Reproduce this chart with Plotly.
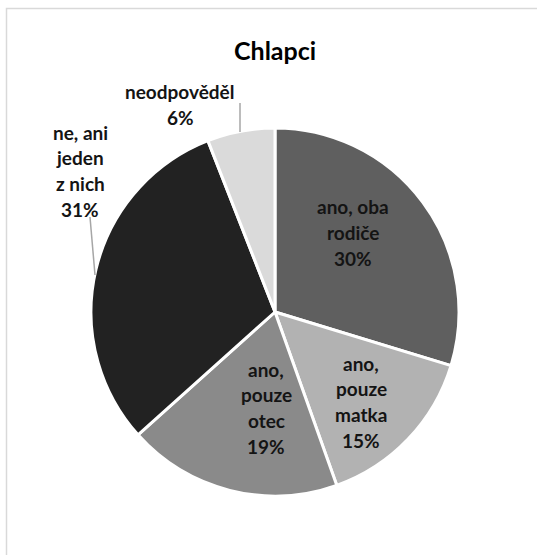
import plotly.graph_objects as go

# Survey answers for boys ("Chlapci"), clockwise from 12 o'clock
categories = ["ano, oba rodiče", "ano, pouze matka", "ano, pouze otec",
              "ne, ani jeden z nich", "neodpověděl"]
percentages = [30, 15, 19, 31, 6]
title_text = "Chlapci"

# How each category name is wrapped in its label
wrapped = [["ano, oba", "rodiče"],
           ["ano,", "pouze", "matka"],
           ["ano,", "pouze", "otec"],
           ["ne, ani", "jeden", "z nich"],
           ["neodpověděl"]]

slice_colors = ["#5f5f5f", "#b2b2b2", "#8a8a8a", "#222222", "#dadada"]

W, H = 537, 555
FONT = "Lato"
TEXT_COLOR = "#141414"


def px(x, y):
    """Pixel position -> paper coordinates."""
    return x / W, 1 - y / H


# pie geometry in pixels
cx, cy, r = 275, 312, 184
x0, _ = px(cx - r, 0)
x1, _ = px(cx + r, 0)
_, y0 = px(0, cy + r)
_, y1 = px(0, cy - r)

fig = go.Figure(go.Pie(
    labels=categories,
    values=percentages,
    sort=False,
    direction="clockwise",
    rotation=0,
    marker=dict(colors=slice_colors, line=dict(color="white", width=3)),
    textinfo="none",
    hoverinfo="label+value",
    domain=dict(x=[x0, x1], y=[y0, y1]),
    showlegend=False,
))

# label block centres (x, y of first line) and line pitch in pixels
label_anchor = [(353, 207), (361, 363), (266, 369), (80, 132), (180, 92)]
LINE_STEP = 25.8

annotations = []
for lines, pct, (lx, ly) in zip(wrapped, percentages, label_anchor):
    for i, t in enumerate(lines + [f"{pct}%"]):
        ax, ay = px(lx, ly + i * LINE_STEP)
        annotations.append(dict(
            x=ax, y=ay, xref="paper", yref="paper", text=f"<b>{t}</b>",
            showarrow=False, xanchor="center", yanchor="middle",
            font=dict(family=FONT, size=19, color=TEXT_COLOR)))

tx, ty = px(275, 50)
annotations.append(dict(
    x=tx, y=ty, xref="paper", yref="paper", text=f"<b>{title_text}</b>",
    showarrow=False, xanchor="center", yanchor="middle",
    font=dict(family=FONT, size=25, color="#000000")))

# leader lines for the labels placed outside the pie
leaders = [((240, 103), (240, 132)), ((90, 217), (95, 275))]
shapes = []
for (ax0, ay0), (ax1, ay1) in leaders:
    p0, p1 = px(ax0, ay0), px(ax1, ay1)
    shapes.append(dict(type="line", xref="paper", yref="paper",
                       x0=p0[0], y0=p0[1], x1=p1[0], y1=p1[1],
                       line=dict(color="#a6a6a6", width=1.5)))

# chart-area border
b0, b1 = px(6.5, 8.5), px(560, 580)
shapes.append(dict(type="rect", xref="paper", yref="paper",
                   x0=b0[0], y0=b0[1], x1=b1[0], y1=b1[1],
                   line=dict(color="#d9d9d9", width=1.5), layer="below"))

fig.update_layout(
    width=W, height=H,
    margin=dict(l=0, r=0, t=0, b=0),
    paper_bgcolor="white", plot_bgcolor="white",
    annotations=annotations, shapes=shapes,
)

fig.write_html("out.html")
